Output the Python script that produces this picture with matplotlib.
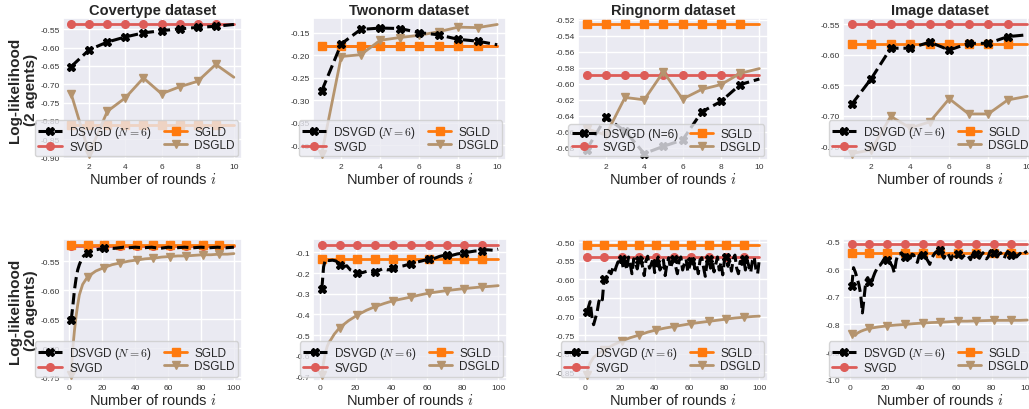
import matplotlib
matplotlib.use("Agg")
import matplotlib.pyplot as plt
import matplotlib.ticker as ticker
import seaborn as sns

sns.set_theme(style="darkgrid")
plt.rcParams["font.family"] = ["Liberation Sans", "DejaVu Sans"]
plt.rcParams["mathtext.fontset"] = "cm"
plt.rcParams["axes.unicode_minus"] = False

# colours
_C_DSVGD = "black"
_C_SVGD = "#dd5c58"
_C_SGLD = "#ff7a0e"
_C_DSGLD = "#b5946e"
_FONT_BIG = 10.5

titles = ["Covertype dataset", "Twonorm dataset", "Ringnorm dataset", "Image dataset"]
row_labels = ["Log-likelihood\n(2 agents)", "Log-likelihood\n(20 agents)"]

# ---------------- top row: 2 agents, 10 rounds ----------------
rounds_top = [1, 2, 3, 4, 5, 6, 7, 8, 9, 10]

cov_dsvgd_top = [-0.652, -0.606, -0.585, -0.571, -0.560, -0.554, -0.549, -0.545, -0.542, -0.537]
cov_dsgld_top = [-0.726, -0.889, -0.774, -0.737, -0.683, -0.726, -0.707, -0.692, -0.646, -0.681]
cov_svgd_top = -0.537
cov_sgld_top = -0.810

two_dsvgd_top = [-0.279, -0.175, -0.143, -0.140, -0.141, -0.150, -0.155, -0.165, -0.169, -0.177]
two_dsgld_top = [-0.418, -0.203, -0.199, -0.167, -0.161, -0.156, -0.148, -0.138, -0.139, -0.132]
two_svgd_top = -0.179
two_sgld_top = -0.179

ring_dsvgd_top = [-0.682, -0.642, -0.659, -0.687, -0.678, -0.670, -0.635, -0.622, -0.601, -0.594]
ring_dsgld_top = [-0.656, -0.664, -0.617, -0.620, -0.585, -0.619, -0.607, -0.601, -0.587, -0.581]
ring_svgd_top = -0.589
ring_sgld_top = -0.526

img_dsvgd_top = [-0.681, -0.639, -0.589, -0.589, -0.579, -0.592, -0.581, -0.581, -0.570, -0.567]
img_dsgld_top = [-0.762, -0.756, -0.701, -0.720, -0.710, -0.672, -0.697, -0.697, -0.674, -0.668]
img_svgd_top = -0.550
img_sgld_top = -0.582

# ---------------- bottom row: 20 agents, 100 rounds ----------------
rounds_bot = list(range(1, 101))

cov_dsvgd_x = [1, 2, 3, 4, 5, 6, 7, 8, 9, 10, 11, 13, 15, 17, 19, 21, 24, 27, 30, 33, 36,
               40, 45, 50, 55, 60, 65, 70, 75, 80, 85, 90, 95, 100]
cov_dsvgd_bot = [-0.652, -0.628, -0.600, -0.580, -0.565, -0.556, -0.549, -0.543, -0.540, -0.538,
                 -0.536, -0.533, -0.531, -0.530, -0.529, -0.528, -0.527, -0.528, -0.527, -0.526,
                 -0.527, -0.526, -0.527, -0.526, -0.528, -0.526, -0.527, -0.526, -0.527, -0.526,
                 -0.527, -0.526, -0.527, -0.526]
cov_dsgld_x = [1, 2, 3, 4, 5, 6, 8, 11, 16, 21, 26, 31, 36, 41, 46, 51, 56, 61, 66, 71, 76,
               81, 86, 91, 96, 100]
cov_dsgld_bot = [-0.745, -0.700, -0.670, -0.645, -0.625, -0.608, -0.590, -0.577, -0.567, -0.561,
                 -0.556, -0.553, -0.550, -0.548, -0.546, -0.545, -0.543, -0.542, -0.541, -0.541,
                 -0.540, -0.539, -0.539, -0.538, -0.538, -0.537]
cov_svgd_bot = -0.5235
cov_sgld_bot = -0.5230

two_dsvgd_x = [1, 2, 3, 5, 7, 9, 11, 13, 15, 17, 19, 21, 23, 25, 27, 29, 31, 33, 35, 38, 41,
               44, 47, 51, 54, 57, 61, 64, 67, 71, 74, 77, 81, 84, 87, 91, 94, 97, 100]
two_dsvgd_bot = [-0.277, -0.170, -0.135, -0.140, -0.138, -0.142, -0.160, -0.170, -0.165, -0.185,
                 -0.192, -0.198, -0.200, -0.195, -0.190, -0.195, -0.193, -0.188, -0.180, -0.185,
                 -0.178, -0.170, -0.165, -0.155, -0.148, -0.142, -0.133, -0.130, -0.120, -0.112,
                 -0.115, -0.108, -0.103, -0.098, -0.094, -0.093, -0.088, -0.090, -0.085]
two_dsgld_x = [1, 2, 3, 4, 5, 6, 8, 11, 16, 21, 26, 31, 36, 41, 46, 51, 56, 61, 66, 71, 76,
               81, 86, 91, 96, 100]
two_dsgld_bot = [-0.690, -0.630, -0.585, -0.555, -0.535, -0.523, -0.495, -0.464, -0.430, -0.403,
                 -0.380, -0.362, -0.347, -0.334, -0.325, -0.316, -0.306, -0.297, -0.291, -0.285,
                 -0.280, -0.275, -0.271, -0.267, -0.264, -0.261]
two_svgd_bot = -0.067
two_sgld_bot = -0.131

ring_dsvgd_bot = [
    -0.688, -0.675, -0.660, -0.700, -0.722, -0.705, -0.688, -0.660, -0.648, -0.655,
    -0.600, -0.605, -0.595, -0.578, -0.585, -0.570, -0.580, -0.565, -0.553, -0.560,
    -0.545, -0.570, -0.550, -0.575, -0.540, -0.560, -0.585, -0.545, -0.555, -0.572,
    -0.548, -0.540, -0.565, -0.590, -0.550, -0.538, -0.570, -0.560, -0.545, -0.582,
    -0.555, -0.540, -0.575, -0.565, -0.548, -0.590, -0.560, -0.542, -0.570, -0.556,
    -0.545, -0.565, -0.585, -0.550, -0.540, -0.575, -0.558, -0.546, -0.580, -0.565,
    -0.550, -0.538, -0.572, -0.560, -0.585, -0.548, -0.542, -0.568, -0.592, -0.555,
    -0.545, -0.570, -0.550, -0.580, -0.560, -0.540, -0.575, -0.555, -0.588, -0.548,
    -0.540, -0.565, -0.550, -0.578, -0.545, -0.535, -0.570, -0.585, -0.552, -0.560,
    -0.545, -0.575, -0.548, -0.565, -0.582, -0.550, -0.540, -0.572, -0.585, -0.545]
ring_dsgld_x = [1, 2, 3, 5, 8, 11, 16, 21, 26, 31, 36, 41, 46, 51, 56, 61, 66, 71, 76, 81,
                86, 91, 96, 100]
ring_dsgld_bot = [-0.856, -0.838, -0.825, -0.810, -0.798, -0.791, -0.777, -0.766, -0.757, -0.750,
                  -0.742, -0.736, -0.731, -0.727, -0.723, -0.719, -0.716, -0.713, -0.710, -0.707,
                  -0.704, -0.702, -0.700, -0.699]
ring_svgd_bot = -0.541
ring_sgld_bot = -0.509

img_dsvgd_bot = [
    -0.661, -0.594, -0.610, -0.632, -0.655, -0.690, -0.758, -0.700, -0.640, -0.630,
    -0.645, -0.655, -0.630, -0.613, -0.600, -0.588, -0.585, -0.576, -0.565, -0.558,
    -0.565, -0.570, -0.580, -0.590, -0.613, -0.570, -0.546, -0.545, -0.540, -0.548,
    -0.555, -0.540, -0.550, -0.560, -0.545, -0.548, -0.565, -0.575, -0.550, -0.545,
    -0.548, -0.552, -0.560, -0.570, -0.582, -0.560, -0.550, -0.540, -0.535, -0.545,
    -0.530, -0.548, -0.560, -0.545, -0.540, -0.552, -0.565, -0.550, -0.545, -0.540,
    -0.545, -0.550, -0.560, -0.552, -0.548, -0.545, -0.555, -0.565, -0.548, -0.540,
    -0.545, -0.552, -0.560, -0.548, -0.540, -0.550, -0.562, -0.555, -0.535, -0.530,
    -0.540, -0.548, -0.555, -0.545, -0.540, -0.552, -0.560, -0.545, -0.535, -0.545,
    -0.548, -0.540, -0.545, -0.555, -0.548, -0.542, -0.550, -0.545, -0.538, -0.535]
img_dsgld_x = [1, 2, 3, 4, 6, 8, 11, 16, 21, 26, 31, 36, 41, 46, 51, 56, 61, 66, 71, 76, 81,
               86, 91, 96, 100]
img_dsgld_bot = [-0.835, -0.838, -0.840, -0.832, -0.825, -0.820, -0.814, -0.809, -0.805, -0.802,
                 -0.800, -0.797, -0.795, -0.793, -0.792, -0.790, -0.788, -0.788, -0.787, -0.786,
                 -0.785, -0.785, -0.785, -0.785, -0.784]
img_svgd_bot = -0.508
img_sgld_bot = -0.539

top_panels = [
    (rounds_top, cov_dsvgd_top, rounds_top, cov_dsgld_top, cov_svgd_top, cov_sgld_top),
    (rounds_top, two_dsvgd_top, rounds_top, two_dsgld_top, two_svgd_top, two_sgld_top),
    (rounds_top, ring_dsvgd_top, rounds_top, ring_dsgld_top, ring_svgd_top, ring_sgld_top),
    (rounds_top, img_dsvgd_top, rounds_top, img_dsgld_top, img_svgd_top, img_sgld_top),
]
bot_panels = [
    (cov_dsvgd_x, cov_dsvgd_bot, cov_dsgld_x, cov_dsgld_bot, cov_svgd_bot, cov_sgld_bot),
    (two_dsvgd_x, two_dsvgd_bot, two_dsgld_x, two_dsgld_bot, two_svgd_bot, two_sgld_bot),
    (rounds_bot, ring_dsvgd_bot, ring_dsgld_x, ring_dsgld_bot, ring_svgd_bot, ring_sgld_bot),
    (rounds_bot, img_dsvgd_bot, img_dsgld_x, img_dsgld_bot, img_svgd_bot, img_sgld_bot),
]
top_dsvgd_labels = [r"DSVGD ($N=6$)", r"DSVGD ($N=6$)", "DSVGD (N=6)", r"DSVGD ($N=6$)"]

# axes boxes in pixels: (left, right, top, bottom)
W, H = 1029, 410
top_boxes = [(63, 242, 19, 161), (313, 506, 19, 161), (578, 768, 19, 161), (843, 1036, 19, 161)]
bot_boxes = [(63, 242, 240, 382), (313, 507, 240, 382), (578, 768, 240, 382), (843, 1036, 240, 382)]


def marks(xs, step):
    # marker indices at rounds 1, 1+step, 1+2*step, ... (not on the last round)
    return [i for i, r in enumerate(xs) if r == 1 or ((r - 1) % step == 0 and r < xs[-1])]


def draw(ax, panel, step, dsvgd_label):
    xd, yd, xg, yg, svgd, sgld = panel
    xs = list(range(1, xd[-1] + 1))
    lw = 2.0
    ax.plot(xd, yd, color=_C_DSVGD, ls="--", lw=2.2, marker="X", ms=6,
            markevery=marks(xd, step), label=dsvgd_label, zorder=4)
    ax.plot(xs, [svgd] * len(xs), color=_C_SVGD, lw=lw, marker="o", ms=5.5,
            markevery=marks(xs, step), label="SVGD", zorder=3)
    ax.plot(xs, [sgld] * len(xs), color=_C_SGLD, lw=lw, marker="s", ms=5.5,
            markevery=marks(xs, step), label="SGLD", zorder=3)
    ax.plot(xg, yg, color=_C_DSGLD, lw=lw, marker="v", ms=5.5,
            markevery=marks(xg, step), label="DSGLD", zorder=3)
    ax.tick_params(axis="both", labelsize=6, pad=2, length=0, labelcolor="#333333")
    ax.set_xlabel(r"Number of rounds $i$", fontsize=_FONT_BIG, labelpad=1)
    ax.legend(ncol=2, loc="lower right", fontsize=8.5, borderaxespad=0.3,
              handlelength=2.0, columnspacing=1.0, labelspacing=0.1,
              handletextpad=0.6, borderpad=0.3, framealpha=0.8)


fig = plt.figure(figsize=(W / 100, H / 100), dpi=100)

for j in range(4):
    l, r, t, b = top_boxes[j]
    ax = fig.add_axes([l / W, 1 - b / H, (r - l) / W, (b - t) / H])
    draw(ax, top_panels[j], 1, top_dsvgd_labels[j])
    ax.set_title(titles[j], fontsize=_FONT_BIG, fontweight="bold", pad=3)
    if j == 2:
        ax.yaxis.set_major_locator(ticker.MultipleLocator(0.02))
    if j == 0:
        ax.set_ylabel(row_labels[0], fontsize=11, fontweight="bold", labelpad=2)

    l, r, t, b = bot_boxes[j]
    ax = fig.add_axes([l / W, 1 - b / H, (r - l) / W, (b - t) / H])
    draw(ax, bot_panels[j], 10, r"DSVGD ($N=6$)")
    if j == 3:
        ax.set_ylim(-1.005, -0.49)
    if j == 0:
        ax.set_ylabel(row_labels[1], fontsize=11, fontweight="bold", labelpad=2)

fig.savefig("out.png", dpi=100)
